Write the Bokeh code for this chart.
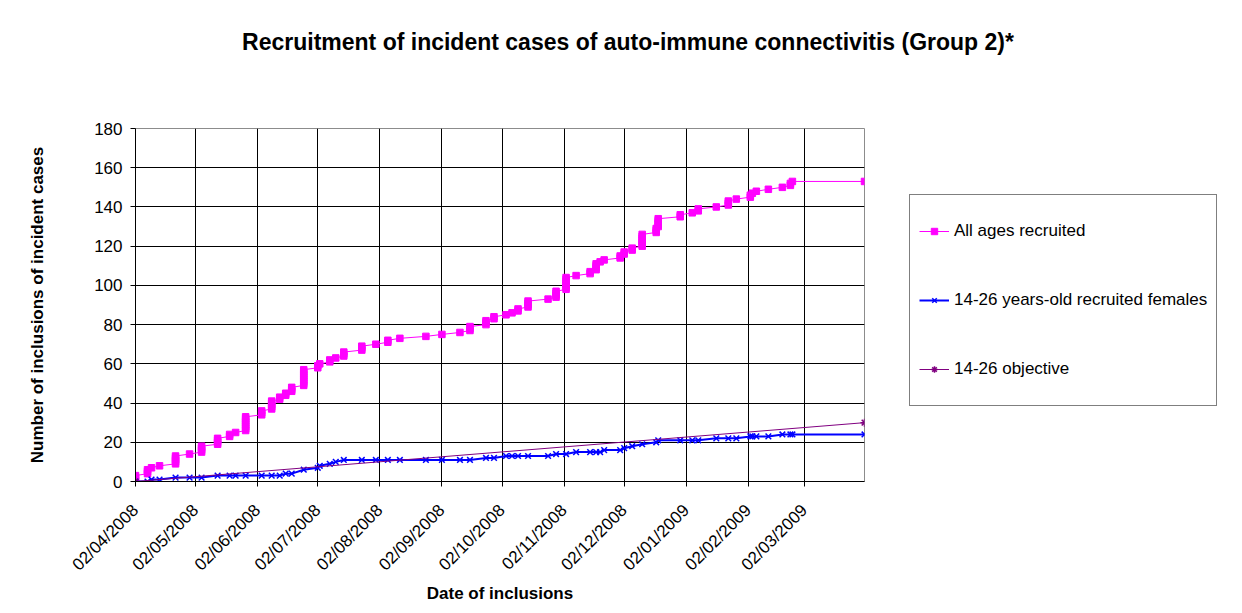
import calendar
from datetime import datetime
from math import pi

from bokeh.plotting import figure
from bokeh.layouts import column, row
from bokeh.models import (Range1d, FixedTicker, Legend, LegendItem, Label,
                          DatetimeTickFormatter)
from bokeh.embed import file_html
from bokeh.resources import INLINE

# ---------------- data ----------------
title_text = "Recruitment of incident cases of auto-immune connectivitis (Group 2)*"
x_label = "Date of inclusions"
y_label = "Number of inclusions of incident cases"

inclusion_dates = [
    "2008-04-02", "2008-04-08", "2008-04-10", "2008-04-14", "2008-04-22", "2008-04-29",
    "2008-05-05", "2008-05-13", "2008-05-19", "2008-05-22", "2008-05-27",
    "2008-06-04", "2008-06-09", "2008-06-13", "2008-06-16", "2008-06-19", "2008-06-25",
    "2008-07-02", "2008-07-03", "2008-07-08", "2008-07-11", "2008-07-15", "2008-07-24", "2008-07-31",
    "2008-08-06", "2008-08-12", "2008-08-25",
    "2008-09-02", "2008-09-11", "2008-09-16", "2008-09-24", "2008-09-28",
    "2008-10-04", "2008-10-07", "2008-10-10", "2008-10-15", "2008-10-25", "2008-10-29",
    "2008-11-03", "2008-11-08", "2008-11-15", "2008-11-18", "2008-11-20", "2008-11-22", "2008-11-30",
    "2008-12-02", "2008-12-06", "2008-12-11", "2008-12-18", "2008-12-19", "2008-12-30",
    "2009-01-05", "2009-01-08", "2009-01-17", "2009-01-23", "2009-01-27",
    "2009-02-03", "2009-02-04", "2009-02-06", "2009-02-12", "2009-02-19", "2009-02-23", "2009-02-24",
    "2009-04-01",
]

# cumulative count of all ages recruited, for each inclusion on each date
all_ages_counts = [
    [1, 2, 3], [4, 5, 6], [7], [8], [9, 10, 11, 12, 13], [14],
    [15, 16, 17, 18], [19, 20, 21, 22], [23, 24], [25], [26, 27, 28, 29, 30, 31, 32, 33],
    [34, 35, 36], [37, 38, 39, 40, 41], [42, 43], [44, 45], [46, 47, 48], [49, 50, 51, 52, 53, 54, 55, 56, 57],
    [58, 59], [60], [61, 62], [63], [64, 65, 66], [67, 68, 69], [70],
    [71, 72], [73], [74],
    [75], [76], [77, 78, 79], [80, 81, 82], [83, 84],
    [85], [86], [87, 88], [89, 90, 91, 92], [93], [94, 95, 96, 97],
    [98, 99, 100, 101, 102, 103, 104], [105], [106, 107], [108, 109, 110, 111], [112], [113], [114, 115],
    [116, 117], [118, 119], [120, 121, 122, 123, 124, 125, 126], [127, 128, 129], [130, 131, 132, 133, 134], [135, 136],
    [137], [138, 139], [140], [141, 142, 143], [144],
    [145, 146], [147], [148], [149], [150], [151, 152], [153],
    [153],
]

# cumulative 14-26 years-old recruited females at each inclusion date
females_counts = [
    0, 0, 1, 1, 2, 2,
    2, 3, 3, 3, 3,
    3, 3, 3, 4, 4, 6,
    7, 8, 9, 10, 11, 11, 11,
    11, 11, 11,
    11, 11, 11, 12, 12,
    13, 13, 13, 13, 13, 14,
    14, 15, 15, 15, 15, 16, 16,
    17, 18, 19, 20, 21, 21,
    21, 21, 22, 22, 22,
    23, 23, 23, 23, 24, 24, 24,
    24,
]

objective_dates = ["2008-04-02", "2009-04-01"]
objective_values = [0, 30]

x_tick_dates = ["2008-04-02", "2008-05-02", "2008-06-02", "2008-07-02", "2008-08-02", "2008-09-02",
                "2008-10-02", "2008-11-02", "2008-12-02", "2009-01-02", "2009-02-02", "2009-03-02"]
y_ticks = [0, 20, 40, 60, 80, 100, 120, 140, 160, 180]

series_names = ["All ages recruited", "14-26 years-old recruited females", "14-26 objective"]


def ms(s):
    return calendar.timegm(datetime.strptime(s, "%Y-%m-%d").timetuple()) * 1000.0


# ---------------- build ----------------
FONT = "Liberation Sans"
pink = "#FF00FF"
blue = "#0000FF"
purple = "#800080"

all_x, all_y = [], []
for d, vals in zip(inclusion_dates, all_ages_counts):
    for v in vals:
        all_x.append(ms(d))
        all_y.append(v)

fem_x = [ms(d) for d in inclusion_dates]
obj_x = [ms(d) for d in objective_dates]

TOTAL_W, TOTAL_H = 1240, 611
TOP_H = 118
MAIN_W = 870
BODY_H = TOTAL_H - TOP_H
FRAME_TOP, FRAME_BOTTOM = 128, 481

# ---- title strip ----
tfig = figure(width=TOTAL_W, height=TOP_H, output_backend="svg", toolbar_location=None,
              x_axis_location=None, y_axis_location=None, min_border=0,
              x_range=Range1d(0, 1), y_range=Range1d(0, 1))
tfig.outline_line_color = None
tfig.grid.visible = False
tfig.background_fill_color = "white"
tfig.border_fill_color = "white"
tfig.add_layout(Label(x=627.5, y=TOP_H - 41, x_units="screen", y_units="screen", text=title_text,
                      text_font=FONT, text_font_size="23px", text_font_style="bold",
                      text_align="center", text_baseline="middle", text_color="black"))

# ---- main chart ----
p = figure(width=MAIN_W, height=BODY_H, output_backend="svg", toolbar_location=None,
           x_axis_type="datetime",
           x_range=Range1d(ms("2008-04-02"), ms("2009-04-01")),
           y_range=Range1d(0, 180),
           min_border_left=135, min_border_right=6, min_border_top=FRAME_TOP - TOP_H,
           min_border_bottom=TOTAL_H - FRAME_BOTTOM)

p.background_fill_color = "white"
p.border_fill_color = "white"
p.outline_line_color = "#8c8c8c"
p.outline_line_width = 1

p.xgrid.grid_line_color = "black"
p.ygrid.grid_line_color = "black"
p.xgrid.grid_line_width = 1
p.ygrid.grid_line_width = 1

p.xaxis.ticker = FixedTicker(ticks=[ms(d) for d in x_tick_dates])
p.xaxis.formatter = DatetimeTickFormatter(
    milliseconds="%d/%m/%Y", seconds="%d/%m/%Y", minsec="%d/%m/%Y", minutes="%d/%m/%Y",
    hourmin="%d/%m/%Y", hours="%d/%m/%Y", days="%d/%m/%Y", months="%d/%m/%Y", years="%d/%m/%Y")
p.xaxis.major_label_orientation = pi / 4
p.yaxis.ticker = FixedTicker(ticks=y_ticks)

for ax in (p.xaxis[0], p.yaxis[0]):
    ax.axis_line_color = "black"
    ax.major_tick_line_color = "black"
    ax.major_tick_out = 5
    ax.major_tick_in = 0
    ax.minor_tick_line_color = None
    ax.major_label_text_font = FONT
    ax.major_label_text_font_size = "17px"
    ax.major_label_text_color = "black"
    ax.axis_label_text_font = FONT
    ax.axis_label_text_font_size = "17px"
    ax.axis_label_text_font_style = "bold"
    ax.axis_label_text_color = "black"

p.xaxis.axis_label = x_label
p.yaxis.axis_label = y_label
p.yaxis.major_label_standoff = 8
p.yaxis.axis_label_standoff = 44
p.xaxis.major_label_standoff = 21
p.xaxis.axis_label_standoff = 0

l1 = p.line(all_x, all_y, line_color=pink, line_width=1)
s1 = p.scatter(all_x, all_y, marker="square", size=6.5, fill_color=pink, line_color=pink)

l2 = p.line(fem_x, females_counts, line_color=blue, line_width=2)
s2 = p.scatter(fem_x, females_counts, marker="x", size=8, line_color=blue, line_width=1.5)

l3 = p.line(obj_x, objective_values, line_color=purple, line_width=1)
s3 = p.scatter(obj_x, objective_values, marker="asterisk", size=8, line_color=purple, line_width=1.5)

# ---- legend panel (its own plot area, aligned with the chart's plot area) ----
lfig = figure(width=TOTAL_W - MAIN_W, height=BODY_H, output_backend="svg", toolbar_location=None,
              x_axis_location=None, y_axis_location=None, min_border=0,
              x_range=Range1d(0, 1), y_range=Range1d(0, 1))
lfig.outline_line_color = None
lfig.grid.visible = False
lfig.background_fill_color = "white"
lfig.border_fill_color = "white"

# legend keys: same styles as the series; their data lie outside this panel's range
k1 = [lfig.line(all_x[:1], all_y[:1], line_color=pink, line_width=1),
      lfig.scatter(all_x[:1], all_y[:1], marker="square", size=6, fill_color=pink, line_color=pink)]
k2 = [lfig.line(fem_x[:1], females_counts[:1], line_color=blue, line_width=2),
      lfig.scatter(fem_x[:1], females_counts[:1], marker="x", size=8, line_color=blue, line_width=1.5)]
k3 = [lfig.line(obj_x[:1], objective_values[:1], line_color=purple, line_width=1),
      lfig.scatter(obj_x[:1], objective_values[:1], marker="asterisk", size=8, line_color=purple, line_width=1.5)]

legend = Legend(items=[LegendItem(label=series_names[0], renderers=k1),
                       LegendItem(label=series_names[1], renderers=k2),
                       LegendItem(label=series_names[2], renderers=k3)],
                location=(909 - MAIN_W, FRAME_BOTTOM - 406), orientation="vertical",
                label_text_font=FONT, label_text_font_size="17px", label_text_color="black",
                glyph_width=30, glyph_height=16, label_height=54, label_width=251,
                label_standoff=5, spacing=15, padding=9, margin=0,
                border_line_color="black", border_line_width=1,
                background_fill_color="white", background_fill_alpha=1)
lfig.add_layout(legend)

layout = column(tfig, row(p, lfig, spacing=0), spacing=0)

open("out.html", "w").write(file_html(layout, INLINE))
